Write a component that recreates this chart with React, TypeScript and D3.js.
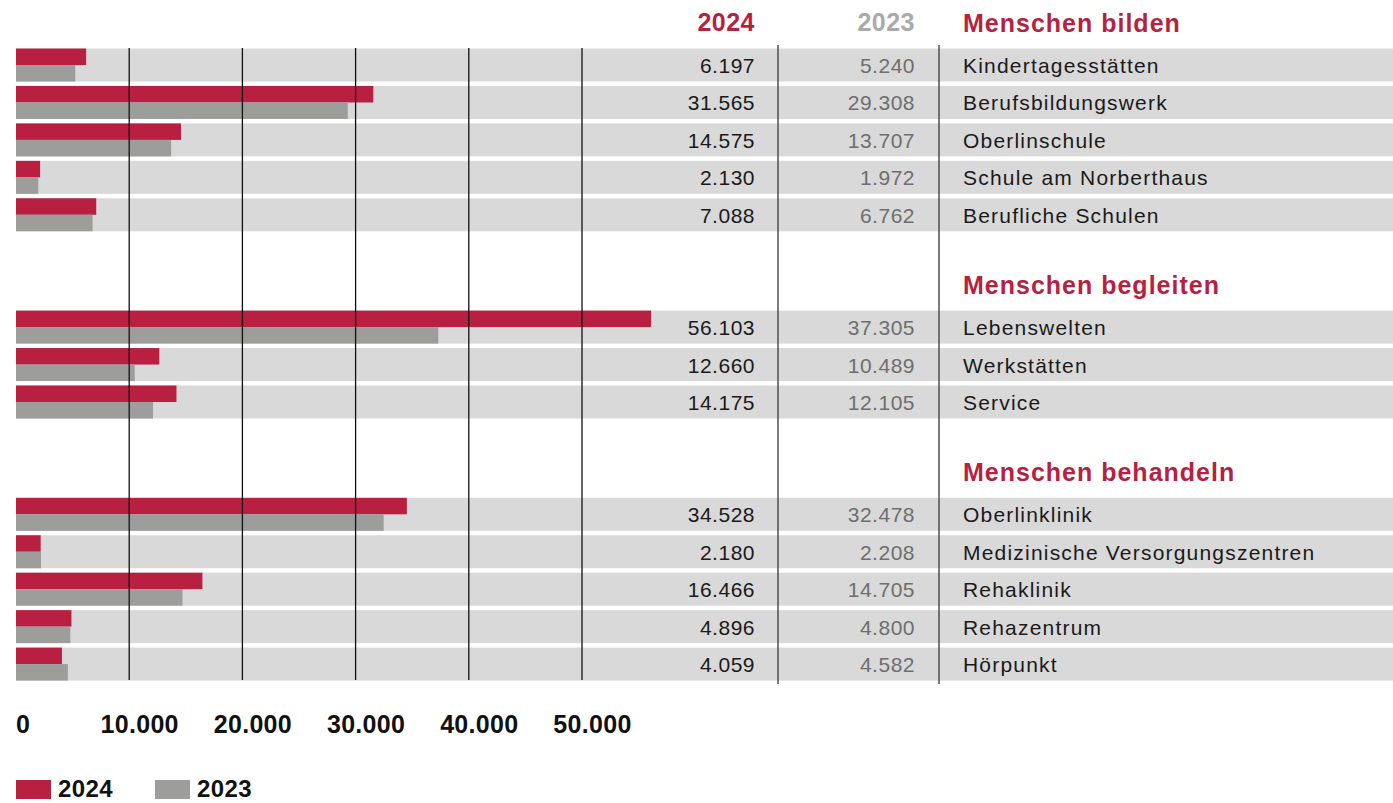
import React from "react";
import * as d3 from "d3";

const groupNames = ["Menschen bilden", "Menschen begleiten", "Menschen behandeln"];
const categories = [
  "Kindertagesstätten",
  "Berufsbildungswerk",
  "Oberlinschule",
  "Schule am Norberthaus",
  "Berufliche Schulen",
  "Lebenswelten",
  "Werkstätten",
  "Service",
  "Oberlinklinik",
  "Medizinische Versorgungszentren",
  "Rehaklinik",
  "Rehazentrum",
  "Hörpunkt",
];
const categoryGroup = [0, 0, 0, 0, 0, 1, 1, 1, 2, 2, 2, 2, 2];
const values2024 = [6197, 31565, 14575, 2130, 7088, 56103, 12660, 14175, 34528, 2180, 16466, 4896, 4059];
const values2023 = [5240, 29308, 13707, 1972, 6762, 37305, 10489, 12105, 32478, 2208, 14705, 4800, 4582];
const xTicks = [0, 10000, 20000, 30000, 40000, 50000];
const seriesNames = ["2024", "2023"];

const RED = "#b81f41";
const GREY_BAR = "#9d9d9c";
const ROW_BG = "#d9d9d9";
const FONT = "'Liberation Sans', Arial, Helvetica, sans-serif";

const de = d3.formatLocale({ decimal: ",", thousands: ".", grouping: [3], currency: ["", "€"] });
const fmt = de.format(",d");

export default function App() {
  const W = 1393;
  const H = 803;
  const x = d3.scaleLinear().domain([0, 50000]).range([16, 582]);
  const slots = d3.range(17);
  const y = d3
    .scaleBand<number>()
    .domain(slots)
    .range([46.3, 682.8])
    .paddingInner(0.1186)
    .paddingOuter(0.0593);
  const bw = y.bandwidth();
  const slotOf = (i: number) => i + 2 * categoryGroup[i];
  const groupFirstSlot = groupNames.map((_, g) => slotOf(categoryGroup.indexOf(g)));

  const colVal24 = 755;
  const colVal23 = 915;
  const colLabel = 963;
  const sepX = [778, 939];

  return (
    <svg
      width={W}
      height={H}
      style={{ position: "absolute", left: 0, top: 0, background: "#fff" }}
      fontFamily={FONT}
    >
      {/* row backgrounds */}
      {categories.map((c, i) => (
        <rect key={"bg" + i} x={16} y={y(slotOf(i))} width={W - 16} height={bw} fill={ROW_BG} />
      ))}
      {/* bars */}
      {categories.map((c, i) => {
        const top = y(slotOf(i)) as number;
        return (
          <g key={"bar" + i}>
            <rect x={x(0)} y={top} width={x(values2024[i]) - x(0)} height={bw / 2} fill={RED} />
            <rect x={x(0)} y={top + bw / 2} width={x(values2023[i]) - x(0)} height={bw / 2} fill={GREY_BAR} />
          </g>
        );
      })}
      {/* gridlines */}
      {xTicks.slice(1).map((t) => (
        <line key={"g" + t} x1={x(t)} x2={x(t)} y1={48} y2={680} stroke="#111" strokeWidth={1.3} />
      ))}
      {/* column separators */}
      {sepX.map((sx) => (
        <line key={"s" + sx} x1={sx} x2={sx} y1={45} y2={684} stroke="#444" strokeWidth={1.4} />
      ))}
      {/* column headers */}
      <text x={colVal24} y={31} textAnchor="end" fontWeight="bold" fontSize={25} fill={RED} letterSpacing={0.5}>
        {seriesNames[0]}
      </text>
      <text x={colVal23} y={31} textAnchor="end" fontWeight="bold" fontSize={25} fill="#aaaaaa" letterSpacing={0.5}>
        {seriesNames[1]}
      </text>
      {/* group headers */}
      {groupNames.map((g, gi) => (
        <text
          key={"gh" + gi}
          x={colLabel}
          y={(y(groupFirstSlot[gi]) as number) - 17}
          fontWeight="bold"
          fontSize={25}
          fill={RED}
          letterSpacing={1}
        >
          {g}
        </text>
      ))}
      {/* values and labels */}
      {categories.map((c, i) => {
        const cy = (y(slotOf(i)) as number) + bw / 2 + 8;
        return (
          <g key={"t" + i} fontSize={21}>
            <text x={colVal24} y={cy} textAnchor="end" fill="#1a1a1a" letterSpacing={0.5}>
              {fmt(values2024[i])}
            </text>
            <text x={colVal23} y={cy} textAnchor="end" fill="#6e6e6e" letterSpacing={0.5}>
              {fmt(values2023[i])}
            </text>
            <text x={colLabel} y={cy} fill="#1a1a1a" letterSpacing={1.2}>
              {c}
            </text>
          </g>
        );
      })}
      {/* x axis labels */}
      {xTicks.map((t) => (
        <text
          key={"xt" + t}
          x={t === 0 ? x(t) : x(t) + 10.5}
          y={733}
          textAnchor={t === 0 ? "start" : "middle"}
          fontWeight="bold"
          fontSize={25}
          fill="#111"
          letterSpacing={0.3}
        >
          {fmt(t)}
        </text>
      ))}
      {/* legend */}
      {seriesNames.map((s, si) => (
        <g key={"lg" + s} transform={`translate(${16 + si * 139},0)`}>
          <rect x={0} y={780} width={35} height={19} fill={si === 0 ? RED : GREY_BAR} />
          <text x={42} y={797} fontWeight="bold" fontSize={24} fill="#111" letterSpacing={0.4}>
            {s}
          </text>
        </g>
      ))}
    </svg>
  );
}
